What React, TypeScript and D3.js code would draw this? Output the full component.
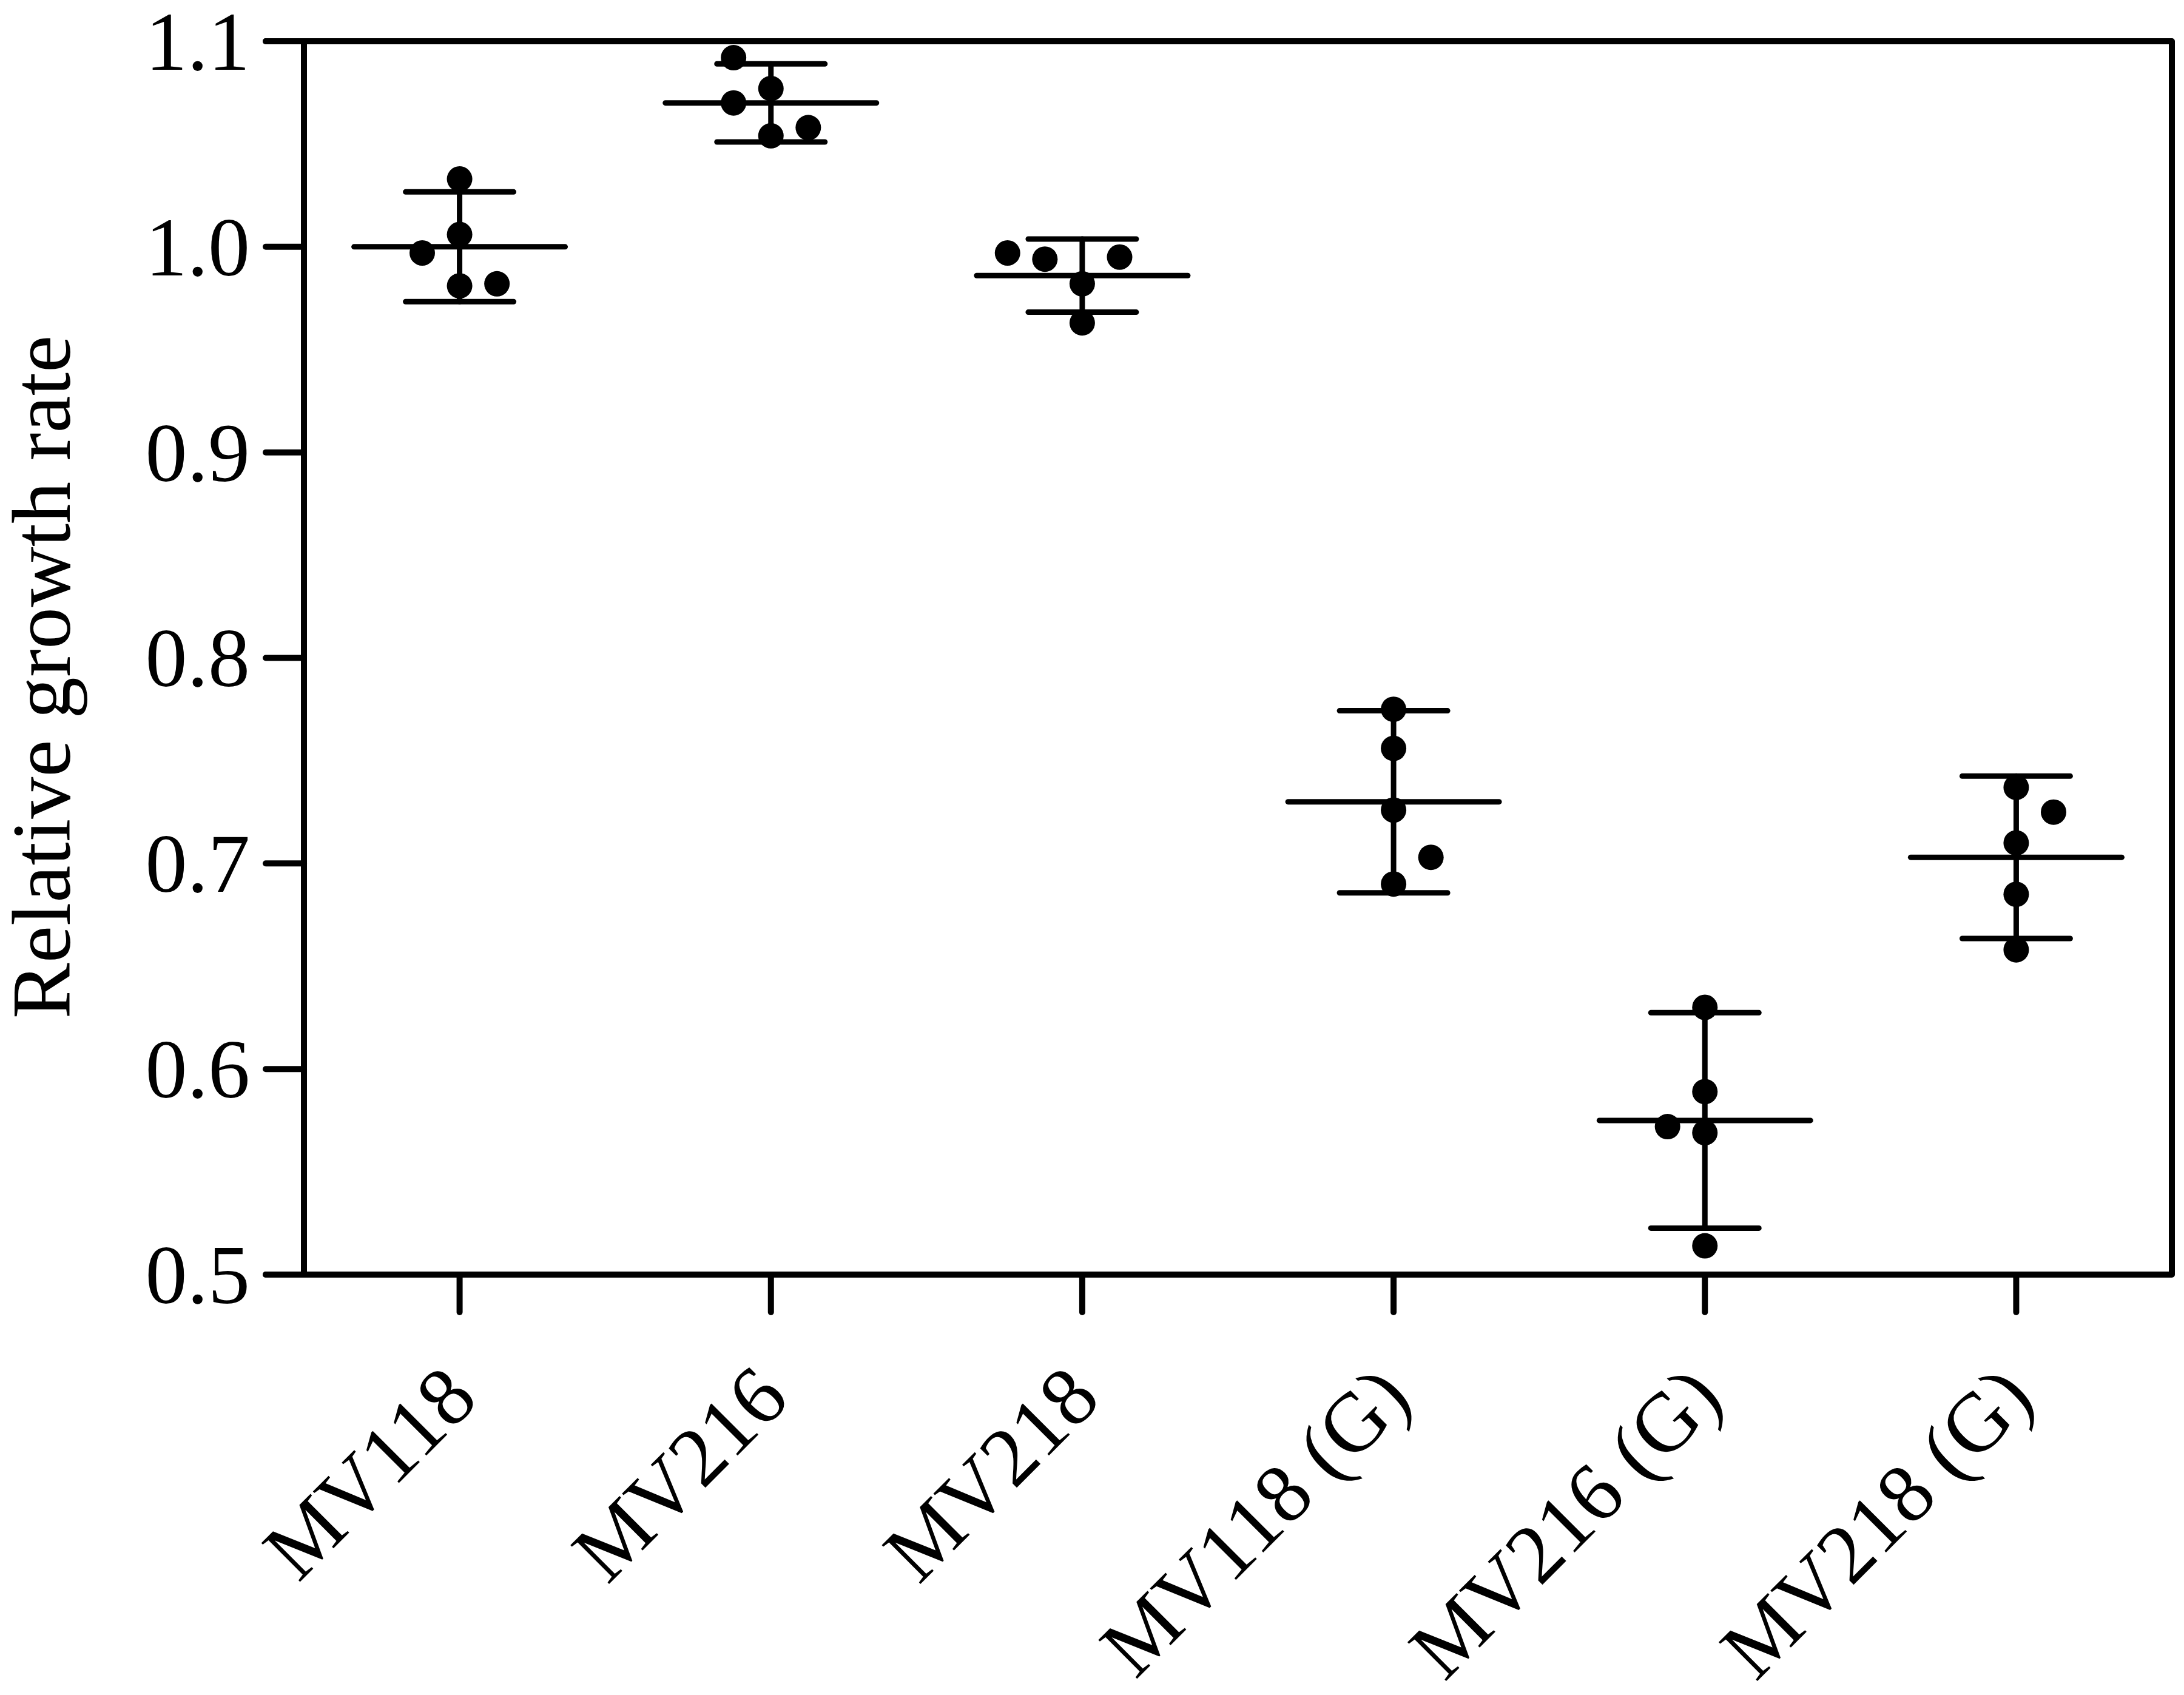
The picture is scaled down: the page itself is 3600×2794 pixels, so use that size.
import React from "react";
import * as d3 from "d3";

const categories = ["MV118", "MV216", "MV218", "MV118 (G)", "MV216 (G)", "MV218 (G)"];
const replicateValues = [
  [1.033, 1.006, 0.997, 0.981, 0.982],
  [1.092, 1.077, 1.070, 1.054, 1.058],
  [0.997, 0.994, 0.995, 0.982, 0.963],
  [0.775, 0.756, 0.726, 0.703, 0.690],
  [0.630, 0.589, 0.572, 0.569, 0.514],
  [0.737, 0.725, 0.710, 0.685, 0.658],
];
// horizontal jitter slot of each replicate (scatter dot plot)
const replicateJitter = [
  [0, 0, -1, 0, 1],
  [-1, 0, -1, 0, 1],
  [-2, -1, 1, 0, 0],
  [0, 0, 0, 1, 0],
  [0, 0, -1, 0, 0],
  [0, 1, 0, 0, 0],
];
const means = [1.0, 1.07, 0.986, 0.73, 0.575, 0.703];
const errors = [0.0267, 0.019, 0.0178, 0.0443, 0.0524, 0.0395];
const yTicks = [0.5, 0.6, 0.7, 0.8, 0.9, 1.0, 1.1];
const yTitle = "Relative growth rate";

const W = 3600;
const H = 2794;
const left = 501;
const right = 3580;
const top = 68;
const bottom = 2101;
const FONT = "'Liberation Serif', 'Times New Roman', serif";
const FS = 138;

export default function App() {
  const x = d3.scalePoint<string>().domain(categories).range([left, right]).padding(0.5);
  const y = d3.scaleLinear().domain([0.5, 1.1]).range([bottom, top]);
  const step = x.step();
  const jit = step * 0.12;
  const lw = 10;
  const capHalf = 89;
  const meanHalf = 174;

  return (
    <svg
      width={W}
      height={H}
      viewBox={`0 0 ${W} ${H}`}
      style={{ position: "absolute", left: 0, top: 0, display: "block", background: "#fff" }}
    >
      <rect x={0} y={0} width={W} height={H} fill="#fff" />
      {/* frame */}
      <path
        d={`M${left},${bottom} L${left},${top} M438,${top} L${right},${top} L${right},${bottom} L438,${bottom}`}
        fill="none"
        stroke="#000"
        strokeWidth={lw}
        strokeLinecap="round"
        strokeLinejoin="round"
      />
      {/* y ticks */}
      {yTicks.map((t) => (
        <g key={t}>
          <line x1={438} x2={left} y1={y(t)} y2={y(t)} stroke="#000" strokeWidth={lw} strokeLinecap="round" />
          <text
            x={412}
            y={y(t)}
            dy="0.34em"
            textAnchor="end"
            fontFamily={FONT}
            fontSize={FS}
            fill="#000"
          >
            {t.toFixed(1)}
          </text>
        </g>
      ))}
      {/* x ticks and labels */}
      {categories.map((c) => (
        <g key={c}>
          <line x1={x(c)} x2={x(c)} y1={bottom} y2={2163} stroke="#000" strokeWidth={lw} strokeLinecap="round" />
          <text
            transform={`translate(${x(c)},2276) rotate(-45)`}
            dy="0.35em"
            textAnchor="end"
            fontFamily={FONT}
            fontSize={FS}
            fill="#000"
          >
            {c}
          </text>
        </g>
      ))}
      {/* y title */}
      <text
        transform={`translate(115,1116) rotate(-90)`}
        textAnchor="middle"
        fontFamily={FONT}
        fontSize={FS}
        fill="#000"
      >
        {yTitle}
      </text>
      {/* dots */}
      {categories.map((c, i) =>
        replicateValues[i].map((v, j) => (
          <circle key={`${c}-${j}`} cx={(x(c) as number) + replicateJitter[i][j] * jit} cy={y(v)} r={21} fill="#000" />
        ))
      )}
      {/* error bars */}
      {categories.map((c, i) => {
        const cx = x(c) as number;
        const hi = y(means[i] + errors[i]);
        const lo = y(means[i] - errors[i]);
        const m = y(means[i]);
        return (
          <g key={`eb-${c}`} stroke="#000" strokeWidth={9} strokeLinecap="round">
            <line x1={cx} x2={cx} y1={hi} y2={lo} />
            <line x1={cx - capHalf} x2={cx + capHalf} y1={hi} y2={hi} />
            <line x1={cx - capHalf} x2={cx + capHalf} y1={lo} y2={lo} />
            <line x1={cx - meanHalf} x2={cx + meanHalf} y1={m} y2={m} />
          </g>
        );
      })}
    </svg>
  );
}
